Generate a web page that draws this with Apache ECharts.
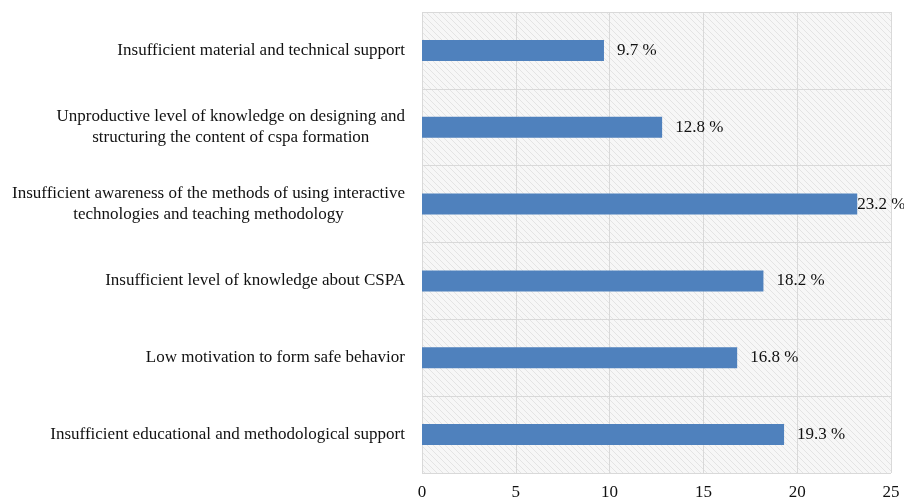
<!DOCTYPE html>
<html>
<head>
<meta charset="utf-8">
<script src="https://cdn.jsdelivr.net/npm/echarts@6/dist/echarts.min.js"></script>
<style>html,body{margin:0;padding:0;background:#fff}#c{width:904px;height:499px}</style>
</head>
<body>
<div id="c"></div>
<script>
// Categories top to bottom
const categories = [
  "Insufficient material and technical support",
  "Unproductive level of knowledge on designing and\nstructuring the content of cspa formation",
  "Insufficient awareness of the methods of using interactive\ntechnologies and teaching methodology",
  "Insufficient level of knowledge about CSPA",
  "Low motivation to form safe behavior",
  "Insufficient educational and methodological support"
];
const values = [9.7, 12.8, 23.2, 18.2, 16.8, 19.3];
const xTicks = [0, 5, 10, 15, 20, 25];

// hatch pattern background
const pc = document.createElement('canvas');
pc.width = 6; pc.height = 6;
const g = pc.getContext('2d');
g.fillStyle = '#f7f7f7'; g.fillRect(0,0,6,6);
g.strokeStyle = '#e4e4e4'; g.lineWidth = 1;
g.beginPath(); g.moveTo(0,0); g.lineTo(6,6); g.moveTo(-3,3); g.lineTo(3,9); g.moveTo(3,-3); g.lineTo(9,3); g.stroke();

const chart = echarts.init(document.getElementById('c'), null, {renderer:'canvas'});
const font = '"Liberation Serif", "Times New Roman", serif';
const maxV = Math.max(...values);
chart.setOption({
  animation: false,
  grid: {left: 422, right: 13, top: 12, bottom: 26, show: true, borderWidth: 0,
         outerBoundsMode: 'none', containLabel: false,
         backgroundColor: {image: pc, repeat: 'repeat'}},
  xAxis: {
    type: 'value', min: xTicks[0], max: xTicks[xTicks.length-1], interval: 5,
    axisLine: {show: false}, axisTick: {show: false},
    axisLabel: {color: '#111', fontFamily: font, fontSize: 17, margin: 11},
    splitLine: {show: true, lineStyle: {color: '#d9d9d9', width: 1}}
  },
  yAxis: {
    type: 'category', data: categories, inverse: true,
    axisLine: {show: false}, axisTick: {show: false},
    splitLine: {show: true, lineStyle: {color: '#d9d9d9', width: 1}},
    axisLabel: {
      margin: 17, color: '#111', fontFamily: font, fontSize: 17, lineHeight: 21,
      formatter: v => v.split('\n').map(s => '{c|' + s + '}').join('\n'),
      rich: {c: {align: 'center', fontFamily: font, fontSize: 17, color: '#111', lineHeight: 21}}
    }
  },
  series: [{
    type: 'bar', barWidth: 21,
    itemStyle: {color: '#4f81bd'},
    data: values.map(v => v === maxV ? {value: v, label: {distance: 0}} : v),
    label: {show: true, position: 'right', distance: 13, formatter: '{c} %',
            fontFamily: font, fontSize: 17, color: '#111'}
  }]
});
</script>
</body>
</html>
